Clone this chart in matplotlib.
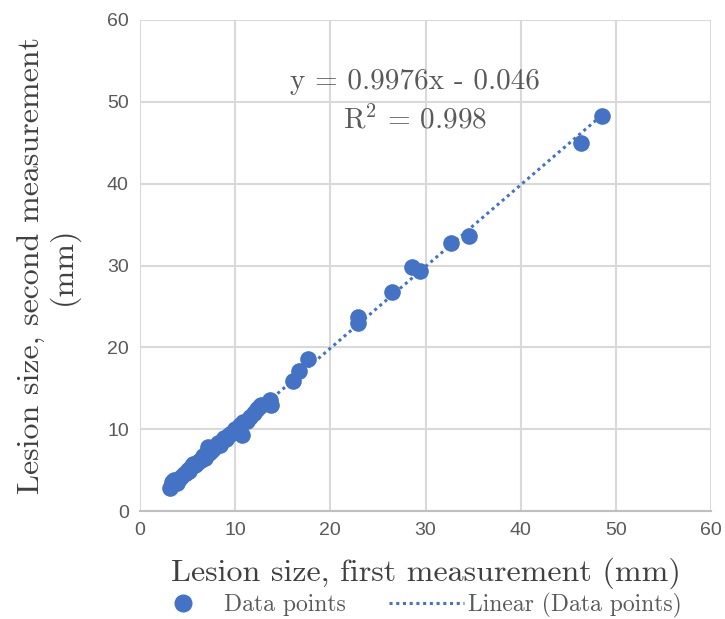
import matplotlib.pyplot as plt
from matplotlib.lines import Line2D
import numpy as np

plt.rcParams['mathtext.fontset'] = 'cm'

# first vs second measurement (mm)
first = [3.2, 3.4, 3.6, 3.9, 4.1, 4.3, 4.6, 4.8, 5.0, 5.2, 5.4, 5.6, 5.8, 6.0,
         6.2, 6.4, 6.6, 6.8, 7.0, 7.1, 7.3, 7.5, 7.7, 8.0, 8.2, 8.4, 8.6, 8.8,
         9.0, 9.3, 9.5, 9.8, 10.0, 10.3, 10.5, 10.7, 10.8, 11.2, 11.6, 12.0,
         12.3, 12.6, 12.7, 13.7, 13.8, 16.1, 16.7, 17.7, 22.9, 22.9, 26.5,
         28.6, 29.4, 32.7, 34.6, 46.3, 48.5]
second = [2.9, 3.6, 3.8, 3.5, 4.0, 4.2, 4.5, 4.7, 5.1, 4.9, 5.4, 5.8, 5.6, 5.9,
          6.1, 6.3, 6.7, 6.5, 7.2, 7.8, 7.1, 7.4, 7.6, 8.0, 8.3, 8.1, 8.6, 9.0,
          8.8, 9.2, 9.4, 9.7, 10.0, 9.8, 10.5, 9.3, 10.9, 11.0, 11.5, 12.0,
          12.5, 12.9, 13.0, 13.6, 13.0, 15.9, 17.1, 18.6, 23.7, 23.0, 26.8,
          29.8, 29.3, 32.8, 33.6, 45.0, 48.3]
slope, intercept = 0.9976, -0.046

blue = '#4472c4'
cm = 'cmr10'
dots = (0, (1, 1.2))

fig = plt.figure(figsize=(7.25, 6.19), dpi=100)
ax = fig.add_axes([0.193, 0.174, 0.788, 0.794])

ax.scatter(first, second, s=120, color=blue, zorder=3)
xs = np.array([min(first), max(first)])
ax.plot(xs, slope * xs + intercept, color=blue, linestyle=dots,
        linewidth=2.2, zorder=2)

ax.set_xlim(0, 60)
ax.set_ylim(0, 60)
ax.set_xticks(range(0, 61, 10))
ax.set_yticks(range(0, 61, 10))
ax.grid(True, color='#d9d9d9', linewidth=1.5)
ax.set_axisbelow(True)
for s in ['top', 'right', 'left']:
    ax.spines[s].set_visible(False)
ax.spines['bottom'].set_color('#bfbfbf')
ax.spines['bottom'].set_linewidth(1.5)
ax.tick_params(length=0, labelsize=14, labelcolor='#595959', pad=8)
for lab in ax.get_xticklabels() + ax.get_yticklabels():
    lab.set_family('Liberation Sans')

ax.text(28.9, 52.4, 'y = 0.9976x - 0.046', fontsize=21, family=cm,
        color='#595959', ha='center', va='center')
ax.text(28.9, 47.8, r'R$^2$ = 0.998', fontsize=21, family=cm,
        color='#595959', ha='center', va='center')

ax.set_xlabel('Lesion size, first measurement (mm)', fontsize=23, family=cm,
              color='#404040', labelpad=13)
ax.set_ylabel('Lesion size, second measurement\n(mm)', fontsize=23,
              family=cm, color='#404040', labelpad=20, linespacing=1.05)

handles = [
    Line2D([], [], marker='o', linestyle='none', color=blue, markersize=12),
    Line2D([], [], color=blue, linestyle=dots, linewidth=2.2),
]
leg = fig.legend(handles, ['Data points', 'Linear (Data points)'],
                 loc='lower center', bbox_to_anchor=(0.57, 0.0), ncol=2,
                 frameon=False, prop={'family': cm, 'size': 17},
                 handlelength=3.2, handletextpad=0.15, columnspacing=1.8,
                 borderpad=0.05, borderaxespad=0.0)
for t in leg.get_texts():
    t.set_color('#595959')

fig.savefig('out.png', dpi=100)
